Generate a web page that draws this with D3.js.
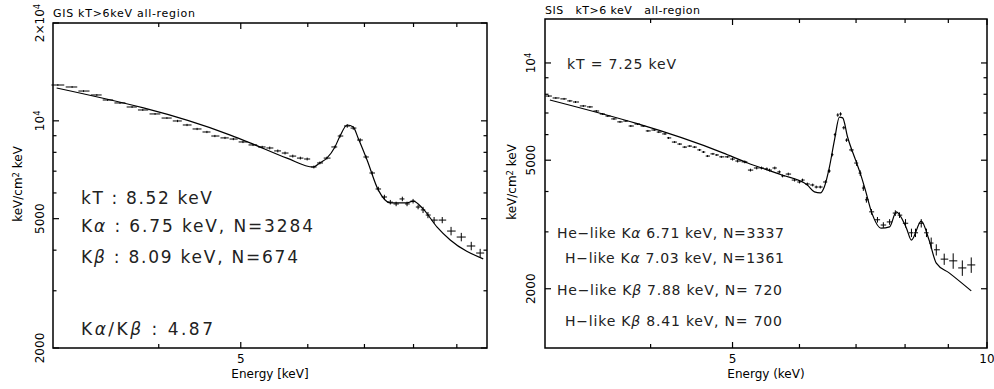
<!DOCTYPE html>
<html>
<head>
<meta charset="utf-8">
<script src="https://cdn.jsdelivr.net/npm/d3@7"></script>
<style>
  body { margin: 0; background: #fff; }
  svg text { font-family: "DejaVu Sans", sans-serif; fill: #000; }
</style>
</head>
<body>
<div id="chart"></div>
<script>
// GIS spectrum (left panel): bin centre energy [keV], flux [keV/cm2 keV], 1-sigma error [%]
const gisEnergy = [3.04, 3.16, 3.26, 3.38, 3.48, 3.60, 3.72, 3.83, 3.96, 4.09, 4.21, 4.32, 4.44, 4.56, 4.66, 4.79, 4.90, 5.03, 5.17, 5.30,
  5.41, 5.53, 5.64, 5.76, 5.88, 5.99, 6.10, 6.20, 6.32, 6.46, 6.55, 6.68, 6.79, 6.92, 7.03, 7.15, 7.27, 7.39, 7.51, 7.63,
  7.76, 7.86, 7.99, 8.10, 8.21, 8.32, 8.46, 8.65, 8.86, 9.11, 9.36, 9.59];
const gisFlux = [12890, 12710, 12350, 12010, 11590, 11350, 11030, 10800, 10500, 10200, 9990, 9710, 9440, 9240, 8980, 8860, 8790, 8610, 8430, 8310,
  8250, 8080, 7960, 7790, 7680, 7630, 7210, 7420, 7680, 8310, 8980, 9640, 9500, 8730, 7740, 6910, 6170, 5830, 5620, 5550,
  5750, 5550, 5660, 5430, 5320, 5130, 4950, 4950, 4580, 4390, 4120, 3920];
const gisErr = [0.6, 0.6, 0.6, 0.6, 0.6, 0.6, 0.6, 0.6, 0.6, 0.6, 0.8, 0.8, 0.8, 0.8, 0.8, 0.8, 0.8, 0.8, 0.8, 0.8,
  1.0, 1.0, 1.0, 1.0, 1.0, 1.0, 1.0, 1.0, 1.0, 1.0, 1.2, 1.2, 1.2, 1.2, 1.2, 1.2, 1.6, 1.6, 1.6, 1.6,
  1.6, 1.6, 1.6, 1.6, 2.2, 2.2, 2.2, 2.2, 3.0, 3.0, 3.0, 3.0];
// GIS best-fit model
const gisModelE = [3.03, 4.86, 5.17, 5.67, 6.09, 6.20, 6.32, 6.46, 6.55, 6.68, 6.79, 6.88, 7.05, 7.27, 7.51, 7.86, 7.99, 8.21, 8.53, 8.84, 9.67];
const gisModelF = [12620, 9040, 8480, 7680, 7210, 7420, 7680, 8310, 8980, 9710, 9570, 8860, 7580, 6120, 5590, 5590, 5660, 5360, 4710, 4300, 3760];

// SIS spectrum (right panel)
const sisEnergy = [3.03, 3.09, 3.16, 3.21, 3.26, 3.33, 3.39, 3.45, 3.51, 3.56, 3.62, 3.68, 3.74, 3.79, 3.86, 3.92, 3.97,
  4.04, 4.09, 4.16, 4.20, 4.27, 4.33, 4.39, 4.45, 4.51, 4.57, 4.62, 4.67, 4.74, 4.79, 4.85, 4.93,
  5.00, 5.07, 5.17, 5.25, 5.34, 5.41, 5.49, 5.53, 5.61, 5.68, 5.73, 5.82, 5.92,
  6.00, 6.05, 6.13, 6.22, 6.28, 6.35, 6.44, 6.51, 6.56, 6.61, 6.66, 6.71, 6.77, 6.82, 6.91,
  7.01, 7.08, 7.14, 7.20, 7.30, 7.42, 7.54, 7.67, 7.79, 7.88,
  8.01, 8.14, 8.23, 8.36, 8.48, 8.59, 8.71, 8.90, 9.12, 9.35, 9.58];
const sisFlux = [7900, 7790, 7740, 7630, 7570, 7360, 7310, 7100, 6950, 6850, 6710, 6570, 6610, 6380, 6470, 6380, 6160,
  6200, 6110, 6030, 5860, 5690, 5610, 5490, 5530, 5490, 5380, 5300, 5150, 5230, 5190, 5120, 5120,
  5040, 4970, 4940, 4660, 4730, 4730, 4700, 4660, 4730, 4600, 4470, 4530, 4340,
  4280, 4340, 4220, 4190, 4130, 4130, 4280, 4630, 5200, 6000, 6900, 6950, 6300, 5770, 5380,
  4900, 4560, 4100, 3770, 3460, 3270, 3150, 3220, 3430, 3380,
  3190, 2980, 2980, 3190, 2980, 2770, 2640, 2470, 2440, 2320, 2370];
const sisErr = [0.7, 0.7, 0.7, 0.7, 0.7, 0.7, 0.7, 0.7, 0.7, 0.7, 0.7, 0.7, 0.7, 0.7, 0.7, 0.7, 0.7,
  0.7, 0.7, 0.7, 0.7, 0.7, 0.7, 0.7, 0.7, 0.7, 0.7, 0.7, 0.7, 0.7, 0.7, 0.7, 0.7,
  1.0, 1.0, 1.0, 1.0, 1.0, 1.0, 1.0, 1.0, 1.0, 1.0, 1.0, 1.0, 1.0,
  1.0, 1.0, 1.0, 1.0, 1.0, 1.0, 1.2, 1.2, 1.2, 1.2, 1.2, 1.2, 1.2, 1.2, 1.2,
  2.0, 2.0, 2.0, 2.0, 2.0, 2.0, 2.0, 2.0, 2.0, 2.0,
  3.0, 3.0, 3.0, 3.0, 3.0, 4.0, 4.0, 4.0, 5.5, 5.5, 5.5];
const sisModelE = [3.04, 4.87, 5.21, 5.72, 6.13, 6.25, 6.35, 6.42, 6.51, 6.60, 6.69, 6.75, 6.84, 6.99, 7.08, 7.18, 7.30,
  7.50, 7.67, 7.81, 8.03, 8.14, 8.36, 8.54, 8.71, 9.02, 9.58];
const sisModelF = [7680, 5270, 4900, 4500, 4190, 3990, 3960, 4130, 4760, 5770, 6800, 6760, 5900, 5010, 4560, 4040, 3460,
  3080, 3110, 3460, 3080, 2830, 3240, 2830, 2400, 2240, 1970];

// ticks and labels
const gisXTicks = [4, 5, 6, 7, 8, 9];
const sisXTicks = [4, 5, 6, 7, 8, 9, 10];
const xTickLabels = {5: "5", 10: "10"};
const yMinorTicks = [3000, 4000, 6000, 7000, 8000, 9000];
const gisYMajor = [2000, 5000, 10000, 20000];
const gisYLabels = ["2000", "5000", "10^4", "2×10^4"];
const sisYMajor = [2000, 5000, 10000];
const sisYLabels = ["2000", "5000", "10^4"];

const gisTitle = "GIS kT>6keV all-region";
const sisTitle = "SIS   kT>6 keV   all-region";
const gisXTitle = "Energy [keV]";
const sisXTitle = "Energy (keV)";
const gisNotes = ["kT : 8.52 keV", "Kα : 6.75 keV, N=3284", "Kβ : 8.09 keV, N=674", "Kα/Kβ : 4.87"];
const sisNoteKT = "kT = 7.25 keV";
const sisNotes = ["He−like Kα 6.71 keV, N=3337", "H−like Kα 7.03 keV, N=1361",
  "He−like Kβ 7.88 keV, N= 720", "H−like Kβ 8.41 keV, N= 700"];

const svg = d3.select("#chart").append("svg")
    .attr("width", 994)
    .attr("height", 389);

// write "a^b" as text with a superscript
function supText(sel, s) {
    const parts = s.split("^");
    sel.append("tspan").text(parts[0]);
    if (parts.length > 1) {
        sel.append("tspan").attr("dy", "-0.5em").style("font-size", "0.7em").text(parts[1]);
    }
}

// greek letters drawn in italics
function greekText(sel, s) {
    s.split(/([αβ])/).forEach(p => {
        if (!p) return;
        const t = sel.append("tspan").text(p);
        if (p === "α" || p === "β") t.style("font-style", "italic");
    });
}

function drawPanel(p) {
    const x = d3.scaleLog().domain(p.xDomain).range([p.left, p.right]);
    const y = d3.scaleLog().domain(p.yDomain).range([p.bottom, p.top]);
    const g = svg.append("g");

    // model curve
    const line = d3.line()
        .x(d => x(d[0]))
        .y(d => y(d[1]))
        .curve(d3.curveMonotoneX);
    g.append("path")
        .datum(d3.zip(p.modelE, p.modelF))
        .attr("d", line)
        .attr("fill", "none")
        .attr("stroke", "#000")
        .attr("stroke-width", 1.2);

    // data crosses
    const n = p.energy.length;
    const crosses = g.append("g").attr("stroke", "#000").attr("stroke-width", 1);
    p.energy.forEach((e, i) => {
        const xc = x(e);
        const xp = i > 0 ? x(p.energy[i - 1]) : 2 * xc - x(p.energy[i + 1]);
        const xn = i < n - 1 ? x(p.energy[i + 1]) : 2 * xc - xp;
        const yc = y(p.flux[i]);
        const f = p.err[i] / 100;
        crosses.append("line")
            .attr("x1", xc - (xc - xp) * 0.45).attr("x2", xc + (xn - xc) * 0.45)
            .attr("y1", yc).attr("y2", yc);
        crosses.append("line")
            .attr("x1", xc).attr("x2", xc)
            .attr("y1", y(p.flux[i] * (1 - f))).attr("y2", y(p.flux[i] * (1 + f)));
    });

    // frame
    g.append("rect")
        .attr("x", p.left).attr("y", p.top)
        .attr("width", p.right - p.left).attr("height", p.bottom - p.top)
        .attr("fill", "none").attr("stroke", "#000").attr("stroke-width", 1.5);

    const ticks = g.append("g").attr("stroke", "#000").attr("stroke-width", 1.2);
    // x ticks (top and bottom, inward)
    p.xTicks.forEach(v => {
        const len = xTickLabels[v] ? 6 : 4;
        const xv = x(v);
        ticks.append("line").attr("x1", xv).attr("x2", xv).attr("y1", p.bottom).attr("y2", p.bottom - len);
        ticks.append("line").attr("x1", xv).attr("x2", xv).attr("y1", p.top).attr("y2", p.top + len);
        if (xTickLabels[v]) {
            g.append("text").attr("x", xv).attr("y", p.bottom + 15)
                .attr("text-anchor", "middle").style("font-size", "12px").text(xTickLabels[v]);
        }
    });
    // y ticks (left and right, inward)
    const yt = p.yMajor.map(v => [v, 6]).concat(yMinorTicks.map(v => [v, 3.5]));
    yt.forEach(([v, len]) => {
        const yv = y(v);
        ticks.append("line").attr("x1", p.left).attr("x2", p.left + len).attr("y1", yv).attr("y2", yv);
        ticks.append("line").attr("x1", p.right).attr("x2", p.right - len).attr("y1", yv).attr("y2", yv);
    });
    p.yMajor.forEach((v, i) => {
        const t = g.append("text")
            .attr("transform", `translate(${p.yLabelX},${y(v)}) rotate(-90)`)
            .attr("text-anchor", "middle")
            .attr("dy", "0.36em")
            .style("font-size", "12px");
        supText(t, p.yLabels[i]);
    });

    // axis titles
    g.append("text")
        .attr("x", (p.left + p.right) / 2).attr("y", p.bottom + 30)
        .attr("text-anchor", "middle").style("font-size", "12px").text(p.xTitle);
    const yl = g.append("text")
        .attr("transform", `translate(${p.yTitleX},${p.yTitleY}) rotate(-90)`)
        .attr("text-anchor", "middle").attr("dy", "0.36em")
        .style("font-size", "12px");
    yl.append("tspan").text("keV/cm");
    yl.append("tspan").attr("dy", "-0.45em").style("font-size", "0.7em").text("2");
    yl.append("tspan").attr("dy", "0.315em").text(" keV");

    g.append("text")
        .attr("x", p.left).attr("y", p.titleY)
        .attr("textLength", p.titleW).attr("lengthAdjust", "spacing")
        .style("font-size", "11px").style("white-space", "pre").text(p.title);
    return g;
}

const gis = drawPanel({
    left: 53, right: 487, top: 23, bottom: 348,
    xDomain: [3, 9.77], yDomain: [2000, 20000],
    energy: gisEnergy, flux: gisFlux, err: gisErr,
    modelE: gisModelE, modelF: gisModelF,
    xTicks: gisXTicks, yMajor: gisYMajor, yLabels: gisYLabels,
    yLabelX: 40, yTitleX: 18, yTitleY: 184,
    xTitle: gisXTitle, title: gisTitle, titleY: 17, titleW: 142
});

const sis = drawPanel({
    left: 545, right: 987, top: 19, bottom: 348,
    xDomain: [3, 10], yDomain: [1311, 13680],
    energy: sisEnergy, flux: sisFlux, err: sisErr,
    modelE: sisModelE, modelF: sisModelF,
    xTicks: sisXTicks, yMajor: sisYMajor, yLabels: sisYLabels,
    yLabelX: 531, yTitleX: 512, yTitleY: 182,
    xTitle: sisXTitle, title: sisTitle, titleY: 14, titleW: 155
});

// annotations (widths fitted to the original lettering)
const gisNoteY = [204, 232, 263, 335];
const gisNoteW = [131, 232, 217, 132];
gisNotes.forEach((s, i) => {
    const t = gis.append("text").attr("x", 81).attr("y", gisNoteY[i])
        .attr("textLength", gisNoteW[i]).attr("lengthAdjust", "spacing")
        .style("font-size", "17px")
        .style("white-space", "pre").style("fill", "#222");
    greekText(t, s);
});

sis.append("text").attr("x", 567).attr("y", 69)
    .attr("textLength", 109).attr("lengthAdjust", "spacing")
    .style("font-size", "14px")
    .style("fill", "#222").text(sisNoteKT);

const sisNoteY = [238, 263, 295, 326];
const sisNoteX = [557, 565, 557, 565];
const sisNoteW = [227, 219, 225, 217];
sisNotes.forEach((s, i) => {
    const t = sis.append("text").attr("x", sisNoteX[i]).attr("y", sisNoteY[i])
        .attr("textLength", sisNoteW[i]).attr("lengthAdjust", "spacing")
        .style("font-size", "14px").style("white-space", "pre").style("fill", "#222");
    greekText(t, s);
});
</script>
</body>
</html>
